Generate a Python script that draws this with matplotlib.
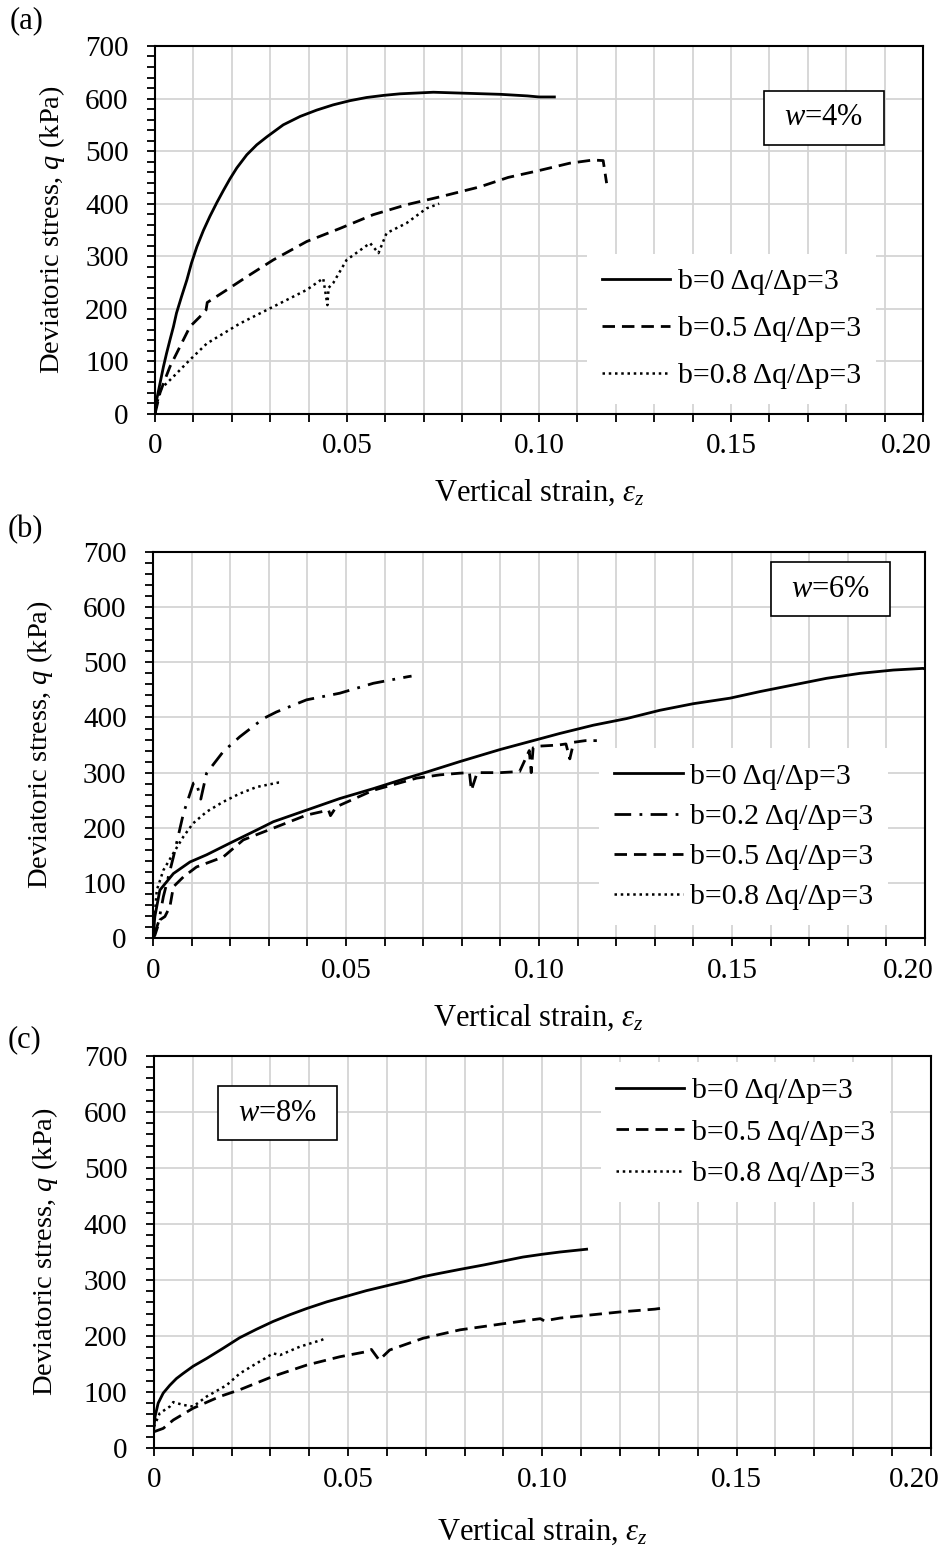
import matplotlib
matplotlib.use("Agg")
import matplotlib.pyplot as plt
from matplotlib.ticker import MultipleLocator
from matplotlib.patches import Rectangle
from matplotlib.transforms import ScaledTranslation

plt.rcParams["font.family"] = ["Liberation Serif", "DejaVu Serif"]
plt.rcParams["mathtext.fontset"] = "custom"
plt.rcParams["mathtext.rm"] = "Liberation Serif"
plt.rcParams["mathtext.it"] = "Liberation Serif:italic"

# ---- panel (a), w = 4 % ----
a_b0_x = [0, 0.00043, 0.0013, 0.0022, 0.003, 0.0039, 0.0048, 0.0056, 0.0069, 0.0083, 0.0095,
          0.0109, 0.0126, 0.0143, 0.0161, 0.0178, 0.0195, 0.0213, 0.0239, 0.0265, 0.0291,
          0.0334, 0.0378, 0.0421, 0.0464, 0.0508, 0.0551, 0.0595, 0.0638, 0.0725, 0.0812,
          0.090, 0.097, 0.100, 0.104]
a_b0_q = [0, 27, 58, 90, 115, 141, 166, 192, 223, 255, 287,
          318, 349, 376, 402, 425, 447, 468, 493, 512, 527,
          550, 566, 578, 588, 596, 602, 606, 609, 612, 610,
          608, 605, 603, 603]
a_b05_x = [0, 0.0013, 0.0022, 0.0039, 0.0065, 0.0091, 0.0117, 0.0133, 0.0136, 0.0187, 0.0239,
           0.0308, 0.0395, 0.0482, 0.0568, 0.0655, 0.0742, 0.0846, 0.092, 0.100, 0.108,
           0.114, 0.1167, 0.1176]
a_b05_q = [0, 40, 58, 90, 128, 166, 185, 198, 212, 236, 261,
           293, 328, 353, 379, 398, 413, 432, 450, 463, 477,
           483, 482, 439]
a_b08_x = [0, 0.0013, 0.0048, 0.0091, 0.0135, 0.0221, 0.0308, 0.0395, 0.0438, 0.0449, 0.0452,
           0.0464, 0.0499, 0.056, 0.0582, 0.0603, 0.0655, 0.0707, 0.074]
a_b08_q = [0, 46, 71, 103, 134, 172, 204, 236, 258, 207, 240,
           249, 293, 325, 306, 344, 363, 391, 400]

# ---- panel (b), w = 6 % ----
b_b0_x = [0, 0.0005, 0.0018, 0.0053, 0.0096, 0.0139, 0.0199, 0.0269, 0.0312, 0.0398, 0.0484,
          0.0571, 0.0657, 0.070, 0.0795, 0.090, 0.1054, 0.1141, 0.1227, 0.1313, 0.140,
          0.1495, 0.1573, 0.1659, 0.1745, 0.1832, 0.1918, 0.1995, 0.200]
b_b0_q = [0, 39, 87, 117, 138, 151, 172, 196, 211, 232, 253,
          271, 290, 299, 320, 342, 371, 386, 398, 413, 425,
          435, 447, 459, 471, 480, 486, 489, 488]
b_b02_x = [0, 0.0015, 0.0027, 0.0053, 0.0079, 0.0105, 0.0112, 0.0124, 0.0139, 0.0182, 0.0225,
           0.0286, 0.032, 0.0398, 0.0484, 0.0571, 0.0661, 0.067]
b_b02_q = [0, 30, 75, 147, 226, 281, 283, 252, 299, 338, 365,
           398, 410, 432, 444, 462, 474, 475]
b_b05_x = [0, 0.0005, 0.0018, 0.0031, 0.0044, 0.0053, 0.0079, 0.0113, 0.0182, 0.0234, 0.0398,
           0.0455, 0.046, 0.0475, 0.0571, 0.0683, 0.0744, 0.0795, 0.082, 0.0825, 0.084,
           0.090, 0.095, 0.0975, 0.098, 0.0985, 0.100, 0.105, 0.107, 0.108, 0.109,
           0.112, 0.115]
b_b05_q = [0, 5, 33, 39, 57, 93, 111, 129, 147, 178, 223,
           232, 222, 238, 268, 290, 296, 299, 300, 268, 300,
           300, 302, 340, 300, 345, 348, 350, 352, 325, 355,
           358, 358]
b_b08_x = [0, 0.0003, 0.001, 0.0027, 0.0053, 0.0079, 0.0104, 0.0139, 0.0182, 0.0225, 0.0269,
           0.0325, 0.0335]
b_b08_q = [0, 27, 87, 123, 154, 184, 208, 229, 247, 262, 274,
           282, 282]

# ---- panel (c), w = 8 % ----
c_b0_x = [0, 0.0003, 0.0011, 0.0024, 0.0041, 0.0058, 0.0075, 0.0101, 0.0136, 0.0178, 0.0221,
          0.0264, 0.0307, 0.035, 0.0393, 0.0445, 0.0496, 0.0547, 0.0607, 0.065, 0.0693,
          0.0736, 0.0788, 0.085, 0.090, 0.095, 0.100, 0.1045, 0.1114]
c_b0_q = [35, 56, 80, 98, 112, 124, 133, 146, 160, 178, 197,
          212, 226, 238, 249, 261, 271, 281, 291, 298, 306,
          312, 319, 327, 334, 341, 346, 350, 355]
c_b05_x = [0, 0.0024, 0.005, 0.0101, 0.017, 0.0221, 0.0307, 0.0393, 0.0479, 0.0547, 0.056,
           0.058, 0.0607, 0.0693, 0.0788, 0.090, 0.0995, 0.1005, 0.1045, 0.113, 0.120,
           0.129, 0.131]
c_b05_q = [29, 35, 50, 71, 92, 104, 128, 148, 163, 172, 176,
           157, 175, 196, 211, 222, 231, 227, 232, 238, 243,
           248, 250]
c_b08_x = [0, 0.0015, 0.0041, 0.005, 0.0075, 0.0101, 0.0136, 0.0187, 0.0221, 0.0264, 0.0307,
           0.0325, 0.0376, 0.0432, 0.0445]
c_b08_q = [38, 62, 74, 82, 77, 74, 92, 112, 133, 151, 169,
           166, 181, 193, 197]

x_ticks = [0, 0.05, 0.10, 0.15, 0.20]
x_tick_labels = ["0", "0.05", "0.10", "0.15", "0.20"]

SOLID = "-"
DASH = (0, (4.5, 2.5))
DOT = (0, (1, 1.5))
DASHDOT = (0, (6, 3, 1, 3))

TICK_FS = 21
XLAB_FS = 22
YLAB_FS = 20.5
LEG_FS = 21.5
TAG_FS = 22

fig = plt.figure(figsize=(9.44, 15.48), dpi=100)


def style_axes(ax, xlab_y, ylab_x):
    ax.set_xlim(0, 0.2)
    ax.set_ylim(0, 700)
    ax.set_xticks(x_ticks)
    ax.set_xticklabels(x_tick_labels)
    ax.xaxis.set_minor_locator(MultipleLocator(0.01))
    ax.yaxis.set_major_locator(MultipleLocator(100))
    ax.yaxis.set_minor_locator(MultipleLocator(20))
    ax.tick_params(which="both", direction="out", length=6, width=1.3, colors="black")
    ax.tick_params(axis="y", which="major", pad=13, labelsize=TICK_FS)
    ax.tick_params(axis="x", which="major", pad=8, labelsize=TICK_FS)
    ax.grid(True, which="major", axis="y", color="#d4d4d4", lw=1.3)
    ax.grid(True, which="both", axis="x", color="#d4d4d4", lw=1.3)
    ax.set_axisbelow(True)
    for sp in ax.spines.values():
        sp.set_linewidth(1.5)
    ax.set_xlabel(r"Vertical strain, $\varepsilon_z$", fontsize=XLAB_FS)
    ax.set_ylabel(r"Deviatoric stress, $q$ (kPa)", fontsize=YLAB_FS)
    ax.xaxis.set_label_coords(0.5, xlab_y)
    ax.yaxis.set_label_coords(ylab_x, 0.5)
    # last tick label sits a little left of its tick, as in the original
    last = ax.get_xticklabels()[-1]
    last.set_transform(last.get_transform() + ScaledTranslation(-0.17, 0, fig.dpi_scale_trans))


def add_legend(ax, anchor, spacing):
    leg = ax.legend(loc="center left", bbox_to_anchor=anchor, fontsize=LEG_FS,
                    frameon=True, fancybox=False, framealpha=1, edgecolor="none",
                    handlelength=2.3, handletextpad=0.25, labelspacing=spacing,
                    borderaxespad=0, borderpad=0.5)
    leg.get_frame().set_facecolor("white")


def add_tag(ax, x0, x1, y0, y1, txt):
    ax.add_patch(Rectangle((x0, y0), x1 - x0, y1 - y0, transform=ax.transAxes,
                           fc="white", ec="black", lw=1.2, zorder=5))
    ax.text((x0 + x1) / 2, (y0 + y1) / 2, txt, transform=ax.transAxes, fontsize=TAG_FS,
            ha="center", va="center", zorder=6)


ax1 = fig.add_axes([0.1642, 0.7326, 0.8136, 0.2377])
ax2 = fig.add_axes([0.1620, 0.3940, 0.8178, 0.2494])
ax3 = fig.add_axes([0.1630, 0.0646, 0.8230, 0.2532])

lw = 2.0
dlw = 1.8
ax1.plot(a_b0_x, a_b0_q, color="black", lw=lw, ls=SOLID, label="b=0 Δq/Δp=3")
ax1.plot(a_b05_x, a_b05_q, color="black", lw=lw, ls=DASH, label="b=0.5 Δq/Δp=3")
ax1.plot(a_b08_x, a_b08_q, color="black", lw=dlw, ls=DOT, label="b=0.8 Δq/Δp=3")
style_axes(ax1, -0.174, -0.115)
add_legend(ax1, (0.562, 0.231), 0.67)
add_tag(ax1, 0.793, 0.949, 0.731, 0.878, r"$w$=4%")

ax2.plot(b_b0_x, b_b0_q, color="black", lw=lw, ls=SOLID, label="b=0 Δq/Δp=3")
ax2.plot(b_b02_x, b_b02_q, color="black", lw=lw, ls=DASHDOT, label="b=0.2 Δq/Δp=3")
ax2.plot(b_b05_x, b_b05_q, color="black", lw=lw, ls=DASH, label="b=0.5 Δq/Δp=3")
ax2.plot(b_b08_x, b_b08_q, color="black", lw=dlw, ls=DOT, label="b=0.8 Δq/Δp=3")
style_axes(ax2, -0.166, -0.127)
add_legend(ax2, (0.578, 0.263), 0.44)
add_tag(ax2, 0.8005, 0.9547, 0.834, 0.974, r"$w$=6%")

ax3.plot(c_b0_x, c_b0_q, color="black", lw=lw, ls=SOLID, label="b=0 Δq/Δp=3")
ax3.plot(c_b05_x, c_b05_q, color="black", lw=lw, ls=DASH, label="b=0.5 Δq/Δp=3")
ax3.plot(c_b08_x, c_b08_q, color="black", lw=dlw, ls=DOT, label="b=0.8 Δq/Δp=3")
style_axes(ax3, -0.176, -0.121)
add_legend(ax3, (0.575, 0.806), 0.49)
add_tag(ax3, 0.0824, 0.2355, 0.786, 0.923, r"$w$=8%")

fig.text(10 / 944, 1 - 21 / 1548, "(a)", fontsize=TAG_FS, va="center", ha="left")
fig.text(8 / 944, 1 - 530 / 1548, "(b)", fontsize=TAG_FS, va="center", ha="left")
fig.text(8 / 944, 1 - 1040 / 1548, "(c)", fontsize=TAG_FS, va="center", ha="left")

fig.savefig("out.png", dpi=100)
